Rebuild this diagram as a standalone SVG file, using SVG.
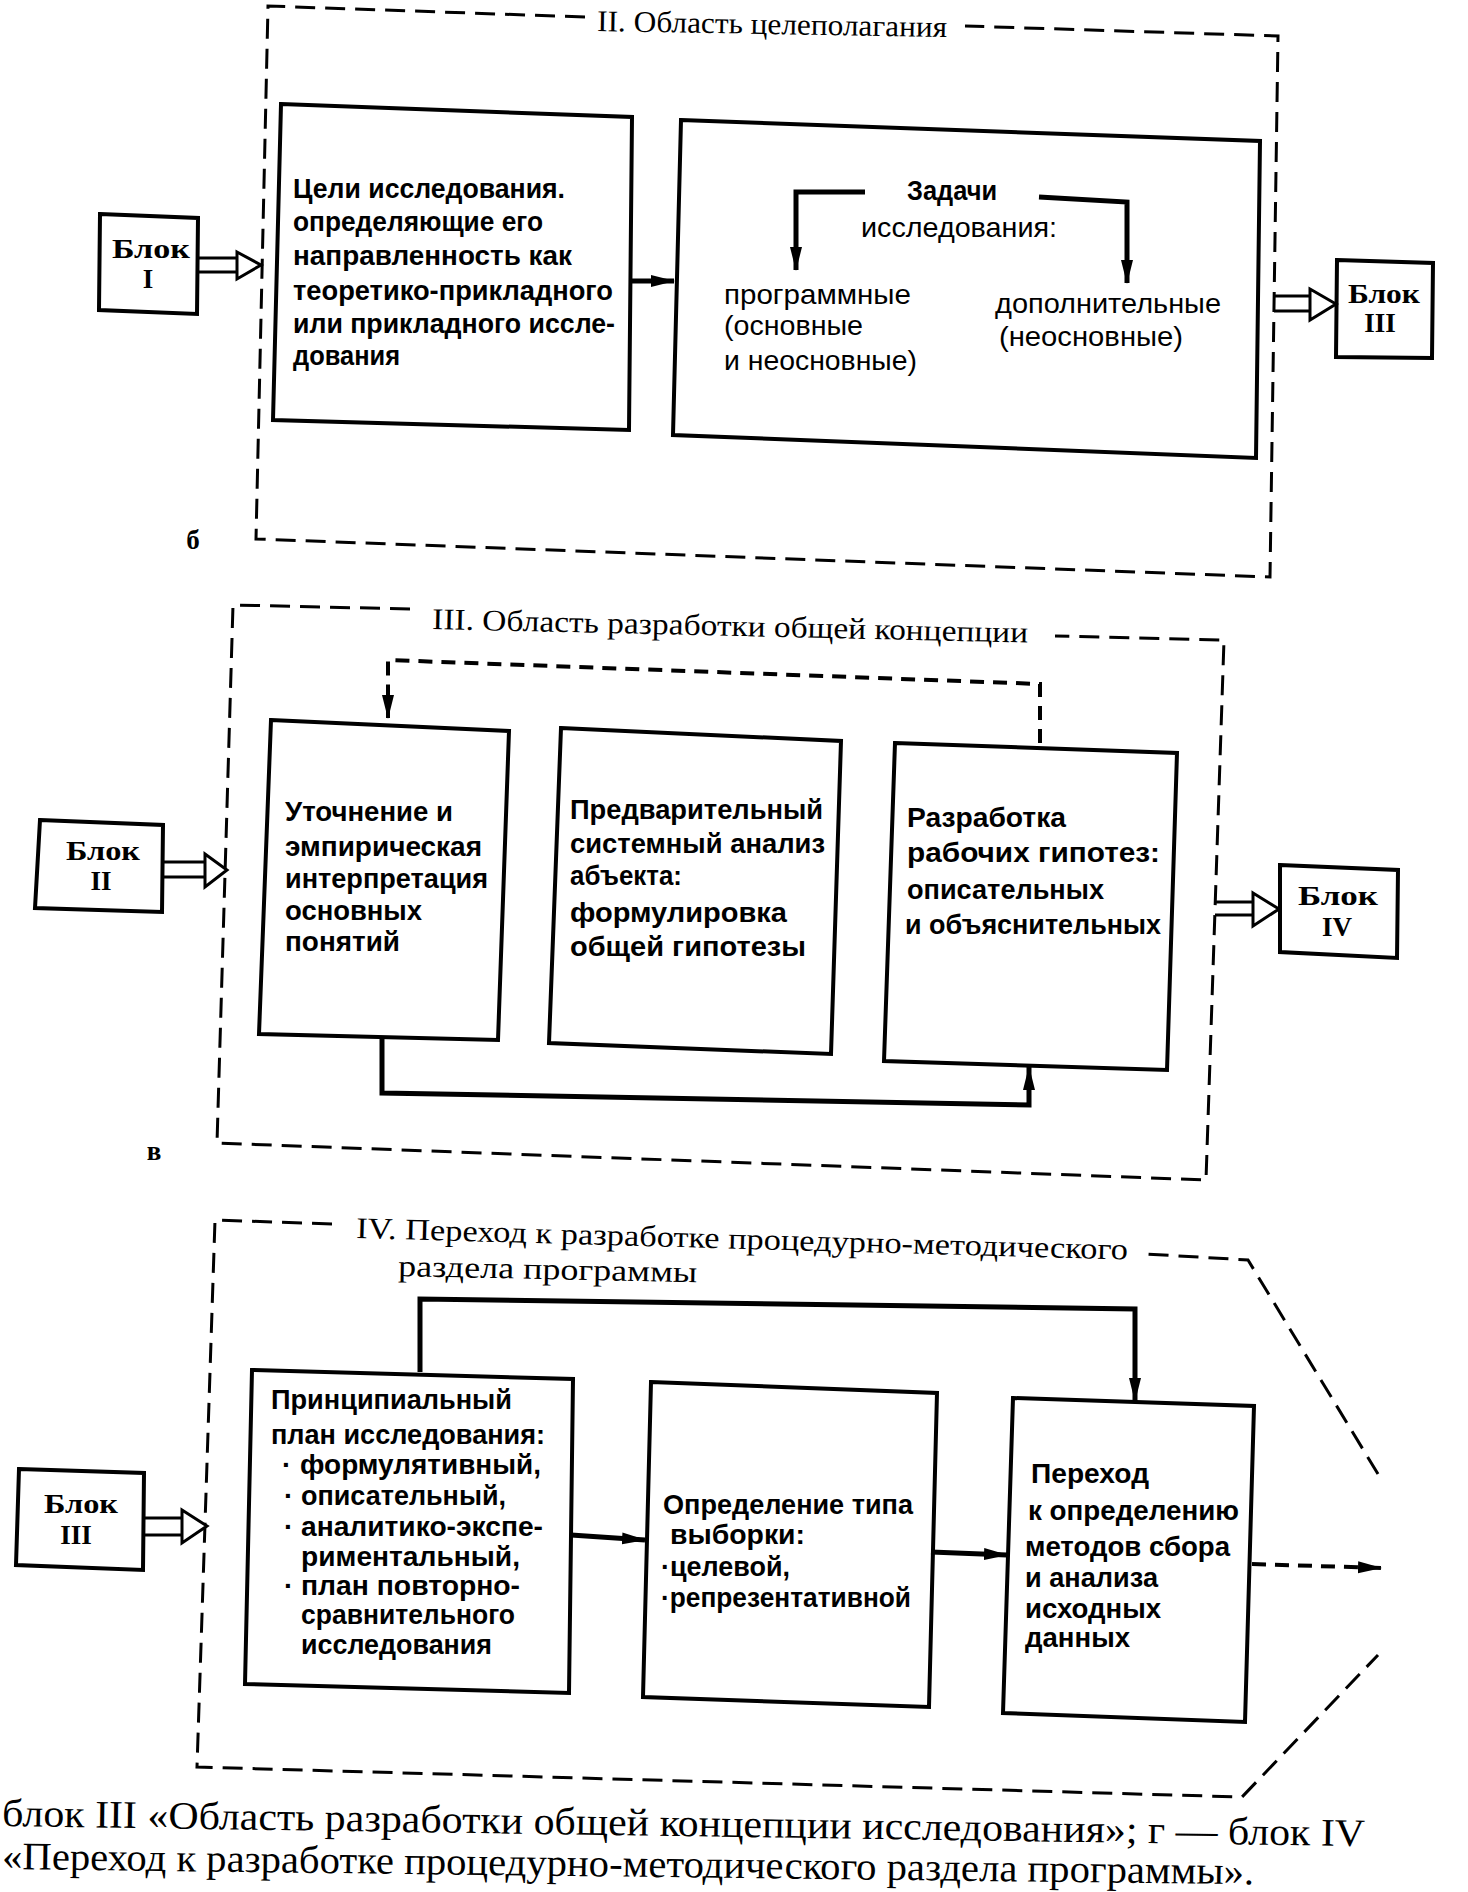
<svg xmlns="http://www.w3.org/2000/svg" width="1468" height="1892" viewBox="0 0 1468 1892">
<defs>
<marker id="ah" viewBox="0 0 24 12" refX="23" refY="6" markerWidth="24" markerHeight="13" markerUnits="userSpaceOnUse" orient="auto"><path d="M0,0 L24,6 L0,12 Z" fill="#000"/></marker>
</defs>
<style>
.box{fill:#fff;stroke:#000;stroke-width:4;stroke-linejoin:miter}
.frame{fill:none;stroke:#000;stroke-width:3;stroke-dasharray:20 10}
.t{font-family:"Liberation Sans",Arial,sans-serif;font-weight:bold;font-size:28px;fill:#000}
.r{font-family:"Liberation Sans",Arial,sans-serif;font-size:28px;fill:#000}
.s{font-family:"Liberation Serif","Times New Roman",serif;font-size:30px;fill:#000}
.b{font-family:"Liberation Serif","Times New Roman",serif;font-weight:bold;font-size:27px;fill:#000;text-anchor:middle}
.cap{font-family:"Liberation Serif","Times New Roman",serif;font-size:39px;fill:#000}
.ln{fill:none;stroke:#000;stroke-width:5}
.dl{fill:none;stroke:#000;stroke-width:4;stroke-dasharray:14 9}
.dbl{fill:none;stroke:#000;stroke-width:3}
.hd{fill:#fff;stroke:#000;stroke-width:3;stroke-linejoin:miter}
</style>
<rect width="1468" height="1892" fill="#fff"/>

<g id="frames">
  <path class="frame" d="M585,17 L268,6 L256,539 L1270,577 L1278,36 L965,26"/>
  <text class="s" x="597" y="31" textLength="350" lengthAdjust="spacingAndGlyphs" transform="rotate(1 597 31)">II. Область целеполагания</text>
  <text class="b" x="193" y="549" font-size="28">б</text>
  <path class="frame" d="M410,609 L233,605 L217,1143 L1206,1180 L1224,640 L1055,636"/>
  <text class="s" x="432" y="629" textLength="596" lengthAdjust="spacingAndGlyphs" transform="rotate(1.3 432 629)">III. Область разработки общей концепции</text>
  <text class="b" x="154" y="1160" font-size="24">в</text>
  <path class="frame" d="M332,1224 L215,1220 L197,1767 L1242,1797 L1378,1655"/>
  <path class="frame" d="M1378,1474 L1248,1260 L1146,1254"/>
  <text class="s" x="356" y="1238" textLength="772" lengthAdjust="spacingAndGlyphs" transform="rotate(1.6 356 1238)">IV.  Переход к разработке процедурно-методического</text>
  <text class="s" x="398" y="1276" textLength="299" lengthAdjust="spacingAndGlyphs" transform="rotate(1.2 398 1276)">раздела программы</text>
</g>

<g id="blok1">
  <polygon class="box" points="100,214 198,218 197,314 99,310"/>
  <text class="b" x="151" y="258" textLength="78" lengthAdjust="spacingAndGlyphs">Блок</text>
  <text class="b" x="148" y="288" font-size="25">I</text>
</g>
<g id="celi">
  <polygon class="box" points="281,104 632,117 629,430 273,420"/>
  <text class="t" x="293" y="198" textLength="272" lengthAdjust="spacingAndGlyphs">Цели исследования.</text>
  <text class="t" x="293" y="231" textLength="250" lengthAdjust="spacingAndGlyphs">определяющие его</text>
  <text class="t" x="293" y="265" textLength="279" lengthAdjust="spacingAndGlyphs">направленность  как</text>
  <text class="t" x="293" y="300" textLength="320" lengthAdjust="spacingAndGlyphs">теоретико-прикладного</text>
  <text class="t" x="293" y="333" textLength="322" lengthAdjust="spacingAndGlyphs">или прикладного иссле-</text>
  <text class="t" x="293" y="365" textLength="107" lengthAdjust="spacingAndGlyphs">дования</text>
</g>
<g id="zadachi">
  <polygon class="box" points="681,120 1260,141 1256,458 673,435"/>
  <text class="t" x="907" y="200" textLength="90" lengthAdjust="spacingAndGlyphs">Задачи</text>
  <text class="r" x="861" y="237" textLength="196" lengthAdjust="spacingAndGlyphs">исследования:</text>
  <text class="r" x="724" y="304" textLength="187" lengthAdjust="spacingAndGlyphs">программные</text>
  <text class="r" x="724" y="335" textLength="139" lengthAdjust="spacingAndGlyphs">(основные</text>
  <text class="r" x="724" y="370" textLength="193" lengthAdjust="spacingAndGlyphs">и неосновные)</text>
  <text class="r" x="995" y="313" textLength="226" lengthAdjust="spacingAndGlyphs">дополнительные</text>
  <text class="r" x="999" y="346" textLength="184" lengthAdjust="spacingAndGlyphs">(неосновные)</text>
</g>
<g id="blok3a">
  <polygon class="box" points="1337,260 1433,263 1432,358 1336,357"/>
  <text class="b" x="1384" y="303" textLength="72" lengthAdjust="spacingAndGlyphs">Блок</text>
  <text class="b" x="1380" y="332" font-size="25">III</text>
</g>

<g id="blok2">
  <polygon class="box" points="40,820 163,825 162,912 35,908"/>
  <text class="b" x="103" y="860" textLength="74" lengthAdjust="spacingAndGlyphs">Блок</text>
  <text class="b" x="101" y="890" font-size="25">II</text>
</g>
<g id="utochnenie">
  <polygon class="box" points="271,720 509,731 498,1040 259,1034"/>
  <text class="t" x="285" y="821" textLength="168" lengthAdjust="spacingAndGlyphs">Уточнение и</text>
  <text class="t" x="285" y="856" textLength="197" lengthAdjust="spacingAndGlyphs">эмпирическая</text>
  <text class="t" x="285" y="888" textLength="203" lengthAdjust="spacingAndGlyphs">интерпретация</text>
  <text class="t" x="285" y="920" textLength="137" lengthAdjust="spacingAndGlyphs">основных</text>
  <text class="t" x="285" y="951" textLength="115" lengthAdjust="spacingAndGlyphs">понятий</text>
</g>
<g id="analiz">
  <polygon class="box" points="561,728 841,741 831,1054 549,1043"/>
  <text class="t" x="570" y="819" textLength="253" lengthAdjust="spacingAndGlyphs">Предварительный</text>
  <text class="t" x="570" y="853" textLength="255" lengthAdjust="spacingAndGlyphs">системный анализ</text>
  <text class="t" x="570" y="885" textLength="112" lengthAdjust="spacingAndGlyphs">абъекта:</text>
  <text class="t" x="570" y="922" textLength="217" lengthAdjust="spacingAndGlyphs">формулировка</text>
  <text class="t" x="570" y="956" textLength="236" lengthAdjust="spacingAndGlyphs">общей  гипотезы</text>
</g>
<g id="gipotezy">
  <polygon class="box" points="895,743 1177,753 1167,1070 884,1061"/>
  <text class="t" x="907" y="827" textLength="159" lengthAdjust="spacingAndGlyphs">Разработка</text>
  <text class="t" x="907" y="862" textLength="253" lengthAdjust="spacingAndGlyphs">рабочих  гипотез:</text>
  <text class="t" x="907" y="899" textLength="197" lengthAdjust="spacingAndGlyphs">описательных</text>
  <text class="t" x="905" y="934" textLength="256" lengthAdjust="spacingAndGlyphs">и объяснительных</text>
</g>
<g id="blok4">
  <polygon class="box" points="1280,865 1398,870 1397,958 1280,952"/>
  <text class="b" x="1338" y="905" textLength="80" lengthAdjust="spacingAndGlyphs">Блок</text>
  <text class="b" x="1337" y="936" font-size="25">IV</text>
</g>

<g id="blok3b">
  <polygon class="box" points="19,1469 144,1473 143,1570 16,1565"/>
  <text class="b" x="81" y="1513" textLength="74" lengthAdjust="spacingAndGlyphs">Блок</text>
  <text class="b" x="76" y="1544" font-size="25">III</text>
</g>
<g id="plan">
  <polygon class="box" points="252,1370 573,1379 569,1693 245,1684"/>
  <text class="t" x="271" y="1409" textLength="241" lengthAdjust="spacingAndGlyphs">Принципиальный</text>
  <text class="t" x="271" y="1444" textLength="274" lengthAdjust="spacingAndGlyphs">план исследования:</text>
  <text class="t" x="282" y="1474">·</text>
  <text class="t" x="300" y="1474" textLength="241" lengthAdjust="spacingAndGlyphs">формулятивный,</text>
  <text class="t" x="284" y="1505">·</text>
  <text class="t" x="301" y="1505" textLength="205" lengthAdjust="spacingAndGlyphs">описательный,</text>
  <text class="t" x="284" y="1536">·</text>
  <text class="t" x="301" y="1536" textLength="242" lengthAdjust="spacingAndGlyphs">аналитико-экспе-</text>
  <text class="t" x="301" y="1566" textLength="219" lengthAdjust="spacingAndGlyphs">риментальный,</text>
  <text class="t" x="284" y="1595">·</text>
  <text class="t" x="301" y="1595" textLength="219" lengthAdjust="spacingAndGlyphs">план повторно-</text>
  <text class="t" x="301" y="1624" textLength="214" lengthAdjust="spacingAndGlyphs">сравнительного</text>
  <text class="t" x="301" y="1654" textLength="191" lengthAdjust="spacingAndGlyphs">исследования</text>
</g>
<g id="vyborka">
  <polygon class="box" points="651,1382 937,1393 929,1707 643,1697"/>
  <text class="t" x="663" y="1514" textLength="250" lengthAdjust="spacingAndGlyphs">Определение типа</text>
  <text class="t" x="670" y="1544" textLength="135" lengthAdjust="spacingAndGlyphs">выборки:</text>
  <text class="t" x="661" y="1576" textLength="129" lengthAdjust="spacingAndGlyphs">·целевой,</text>
  <text class="t" x="661" y="1607" textLength="250" lengthAdjust="spacingAndGlyphs">·репрезентативной</text>
</g>
<g id="perehod">
  <polygon class="box" points="1013,1398 1254,1406 1245,1722 1003,1713"/>
  <text class="t" x="1031" y="1483" textLength="118" lengthAdjust="spacingAndGlyphs">Переход</text>
  <text class="t" x="1028" y="1520" textLength="211" lengthAdjust="spacingAndGlyphs">к определению</text>
  <text class="t" x="1025" y="1556" textLength="205" lengthAdjust="spacingAndGlyphs">методов сбора</text>
  <text class="t" x="1025" y="1587" textLength="133" lengthAdjust="spacingAndGlyphs">и анализа</text>
  <text class="t" x="1025" y="1618" textLength="136" lengthAdjust="spacingAndGlyphs">исходных</text>
  <text class="t" x="1025" y="1647" textLength="105" lengthAdjust="spacingAndGlyphs">данных</text>
</g>

<g id="connectors">
  <path class="dbl" d="M198,258 H239 M198,272 H239"/>
  <polygon class="hd" points="237,252 261,265 237,279"/>
  <path class="ln" d="M629,281 H674" marker-end="url(#ah)"/>
  <path class="ln" d="M865,192 H796 V270" stroke-width="4" marker-end="url(#ah)"/>
  <path class="ln" d="M1039,197 L1127,202 V283" stroke-width="6" marker-end="url(#ah)"/>
  <path class="dbl" d="M1274,296 H1312 M1274,311 H1312"/>
  <polygon class="hd" points="1310,289 1336,304 1310,320"/>

  <path class="dbl" d="M163,862 H207 M163,877 H207"/>
  <polygon class="hd" points="205,854 227,870 205,887"/>
  <path class="dl" d="M1040,743 V684 L388,660 V718" marker-end="url(#ah)"/>
  <path class="ln" d="M382,1037 V1093 L1029,1105 V1067" marker-end="url(#ah)"/>
  <path class="dbl" d="M1215,902 H1255 M1215,915 H1255"/>
  <polygon class="hd" points="1253,893 1279,909 1253,926"/>

  <path class="dbl" d="M144,1518 H184 M144,1535 H184"/>
  <polygon class="hd" points="182,1510 207,1526 182,1543"/>
  <path class="ln" d="M571,1535 L645,1540" marker-end="url(#ah)"/>
  <path class="ln" d="M931,1552 L1007,1555" marker-end="url(#ah)"/>
  <path class="ln" d="M420,1372 V1299 L1135,1309 V1401" marker-end="url(#ah)"/>
  <path class="dl" d="M1252,1564 L1381,1568" marker-end="url(#ah)"/>
</g>

<g id="caption">
  <text class="cap" x="2" y="1826" textLength="1363" lengthAdjust="spacingAndGlyphs" transform="rotate(0.85 2 1826)">блок III «Область разработки общей концепции исследования»; г — блок  IV</text>
  <text class="cap" x="2" y="1869" textLength="1252" lengthAdjust="spacingAndGlyphs" transform="rotate(0.7 2 1869)">«Переход  к  разработке  процедурно-методического  раздела  программы».</text>
</g>
</svg>
